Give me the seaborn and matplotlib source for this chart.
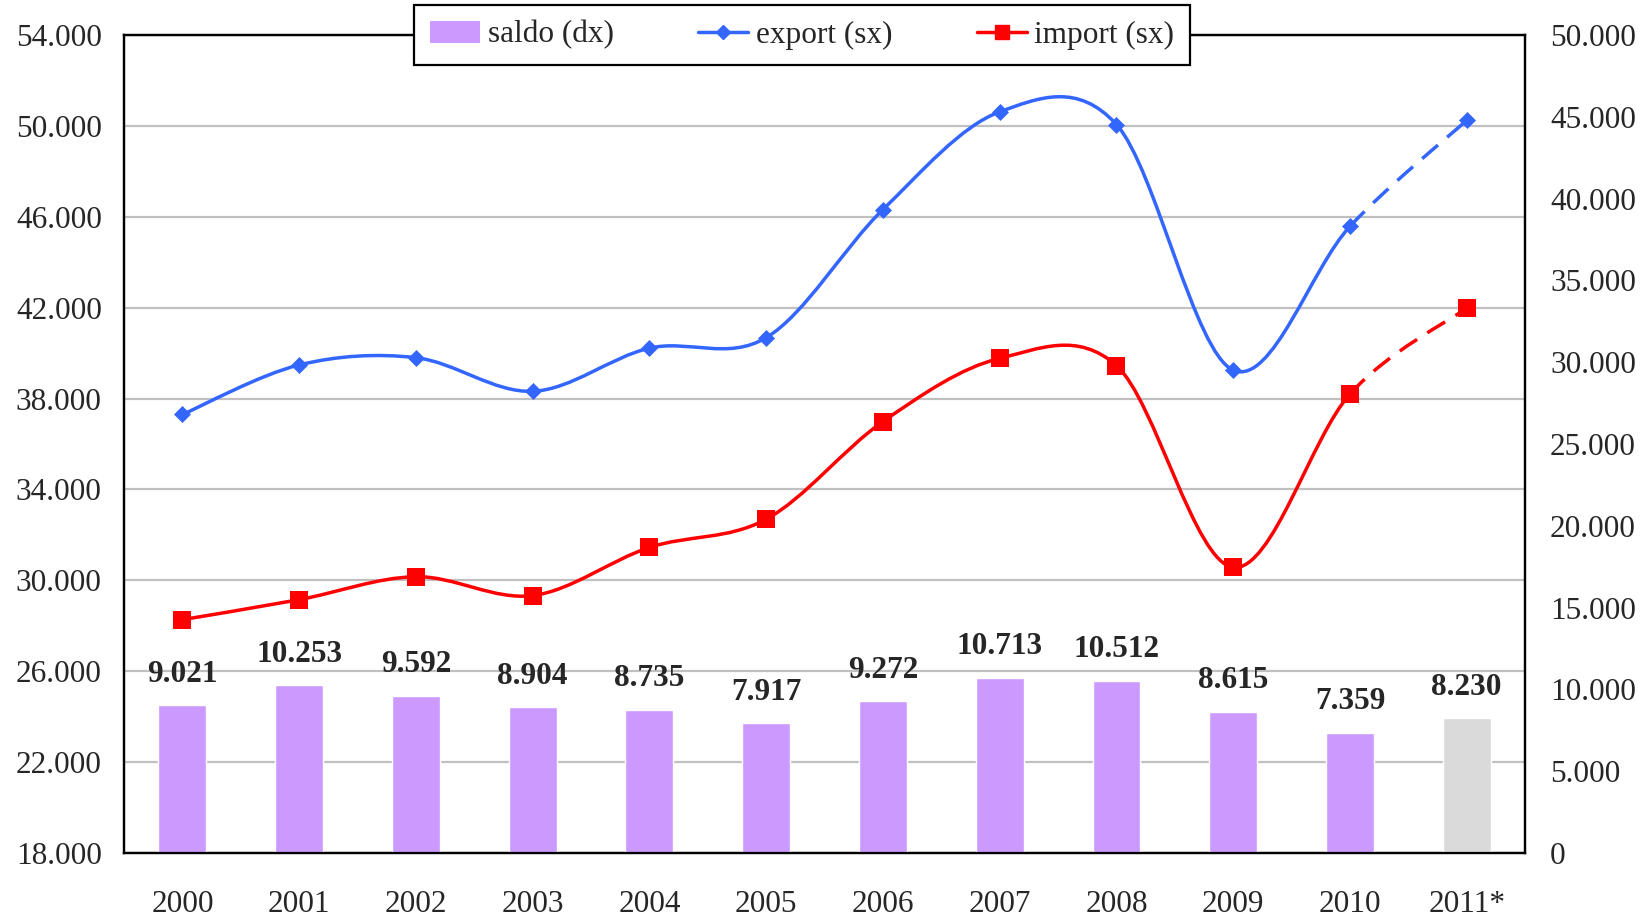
import matplotlib
matplotlib.use("Agg")
import matplotlib.pyplot as plt
import seaborn as sns
import numpy as np
from matplotlib.path import Path
from matplotlib.patches import PathPatch, Patch
from matplotlib.lines import Line2D
from matplotlib.ticker import FuncFormatter

# --------------------------------------------------
# Data
# --------------------------------------------------

years = ["2000", "2001", "2002", "2003", "2004", "2005",
         "2006", "2007", "2008", "2009", "2010", "2011*"]
export_sx = [37300, 39480, 39800, 38320, 40220, 40680,
             46320, 50620, 50060, 39250, 45580, 50250]
import_sx = [28270, 29150, 30160, 29330, 31450, 32690,
             36990, 39770, 39450, 30570, 38200, 41980]
saldo_dx = [9021, 10253, 9592, 8904, 8735, 7917,
            9272, 10713, 10512, 8615, 7359, 8230]

left_ticks = [18000, 22000, 26000, 30000, 34000, 38000, 42000, 46000, 50000, 54000]
right_ticks = [0, 5000, 10000, 15000, 20000, 25000, 30000, 35000, 40000, 45000, 50000]

bar_color = "#cc99ff"
estimate_color = "#dadada"
blue = "#3366ff"
red = "#ff0000"


def thousands(v, pos=None):
    return f"{v:,.0f}".replace(",", ".")


def smooth_path(xs, ys, start, stop):
    # bezier segments (catmull-rom style), like excel's smoothed lines
    pts = np.column_stack([xs, ys]).astype(float)
    n = len(pts)
    verts = [pts[start]]
    codes = [Path.MOVETO]
    for i in range(start, stop):
        p0 = pts[max(i - 1, 0)]
        p1 = pts[i]
        p2 = pts[i + 1]
        p3 = pts[min(i + 2, n - 1)]
        c1 = p1 + (p2 - p0) / 6
        c2 = p2 - (p3 - p1) / 6
        verts += [c1, c2, p2]
        codes += [Path.CURVE4] * 3
    return Path(verts, codes)


# --------------------------------------------------
# Figure
# --------------------------------------------------

sns.set_style("white")
plt.rcParams["font.family"] = ["Liberation Serif", "DejaVu Serif"]

fig = plt.figure(figsize=(16.47, 9.17), dpi=100)
ax1 = fig.add_axes([0.0753, 0.0698, 0.8507, 0.892])
ax2 = ax1.twinx()

pos = np.arange(len(years))

# bars: saldo on right axis
sns.barplot(x=years, y=saldo_dx, hue=years,
            palette=[bar_color] * 11 + [estimate_color],
            legend=False, width=0.41, saturation=1, ax=ax2)

for cont, v in zip(ax2.containers, saldo_dx):
    ax2.bar_label(cont, labels=[thousands(v)], padding=12,
                  fontsize=22.5, fontweight="bold")

# lines: export / import on left axis
for vals, col in [(export_sx, blue), (import_sx, red)]:
    solid = smooth_path(pos, vals, 0, len(vals) - 2)
    dashed = smooth_path(pos, vals, len(vals) - 2, len(vals) - 1)
    ax1.add_patch(PathPatch(solid, fill=False, edgecolor=col, lw=2.5,
                            capstyle="round", joinstyle="round"))
    ax1.add_patch(PathPatch(dashed, fill=False, edgecolor=col, lw=2.5,
                            linestyle=(0, (6, 3.5))))

sns.scatterplot(x=pos, y=export_sx, marker="D", s=75, color=blue,
                edgecolor=blue, linewidth=0, ax=ax1, zorder=3)
sns.scatterplot(x=pos, y=import_sx, marker="s", s=150, color=red,
                edgecolor=red, linewidth=0, ax=ax1, zorder=3)

# --------------------------------------------------
# Axes styling
# --------------------------------------------------

ax1.set_xlim(-0.5, len(years) - 0.5)
ax1.set_ylim(18000, 54000)
ax2.set_ylim(0, 50000)
ax1.set_yticks(left_ticks)
ax2.set_yticks(right_ticks)
ax1.yaxis.set_major_formatter(FuncFormatter(thousands))
ax2.yaxis.set_major_formatter(FuncFormatter(thousands))

ax1.set_xticks(pos, labels=years)
ax1.tick_params(axis="x", length=0, pad=27, labelsize=22.5)
ax1.tick_params(axis="y", length=0, pad=16, labelsize=22.5)
ax2.tick_params(axis="y", length=0, pad=18, labelsize=22.5)

ax1.yaxis.grid(True, color="#c0c0c0", lw=1.6)
ax1.xaxis.grid(False)
ax1.set_axisbelow(True)
ax1.set_xlabel("")
ax1.set_ylabel("")
ax2.set_xlabel("")
ax2.set_ylabel("")

for ax in (ax1, ax2):
    for sp in ax.spines.values():
        sp.set_color("black")
        sp.set_linewidth(1.6)

# --------------------------------------------------
# Legend
# --------------------------------------------------

handles = [
    Patch(facecolor=bar_color, edgecolor="none"),
    Line2D([], [], color=blue, lw=2.5, marker="D", markersize=7),
    Line2D([], [], color=red, lw=2.5, marker="s", markersize=10),
]
leg = ax2.legend(handles, ["saldo (dx)", "export (sx)", "import (sx)"],
                 loc="center", bbox_to_anchor=(0.484, 1.0), ncol=3,
                 fontsize=22.5, frameon=True, fancybox=False, framealpha=1,
                 edgecolor="black", handlelength=1.6, handletextpad=0.25,
                 columnspacing=2.7, borderpad=0.5)
leg.get_frame().set_linewidth(1.6)

fig.savefig("out.png", dpi=100)
